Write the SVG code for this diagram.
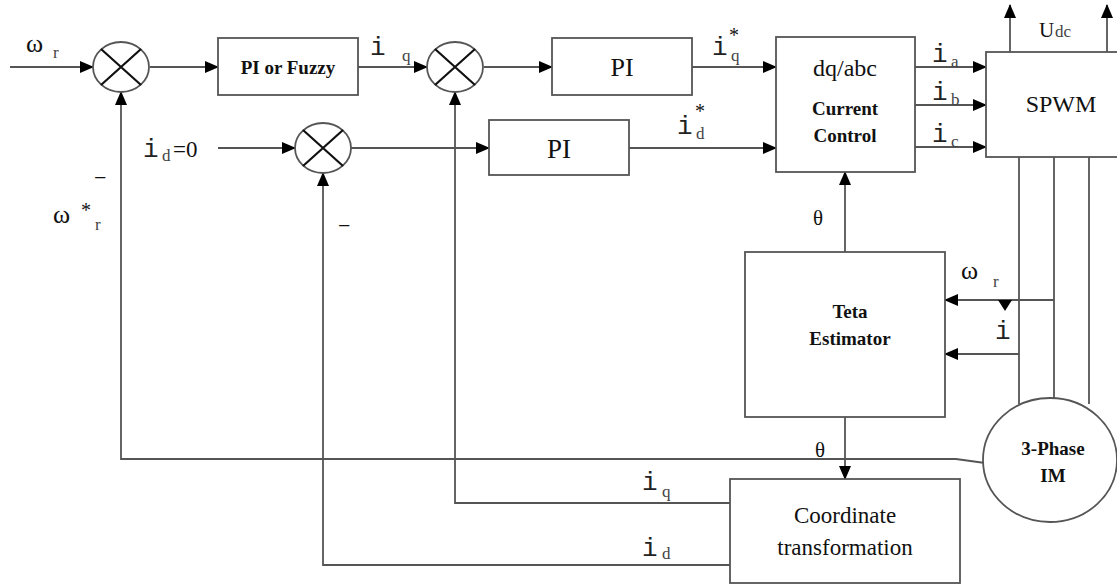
<svg xmlns="http://www.w3.org/2000/svg" width="1117" height="584" viewBox="0 0 1117 584">
<style>
.box{fill:#fff;stroke:#555;stroke-width:1.8}
.sum{fill:#fff;stroke:#555;stroke-width:1.8}
.x{stroke:#111;stroke-width:2.2}
.ln{fill:none;stroke:#555;stroke-width:1.8}
.arr{marker-end:url(#ah)}
.s{font-family:"Liberation Serif","Times New Roman","DejaVu Serif",serif;fill:#111}
.b{font-family:"Liberation Serif","Times New Roman","DejaVu Serif",serif;font-weight:bold;fill:#111}
.m{font-family:"Liberation Mono","Courier New",monospace;fill:#222}
.sub{font-family:"Liberation Serif","Times New Roman","DejaVu Serif",serif;fill:#444;font-size:17px}
</style>
<defs>
<marker id="ah" markerUnits="userSpaceOnUse" markerWidth="14" markerHeight="12" refX="13" refY="6" orient="auto">
<path d="M0,0 L14,6 L0,12 z" fill="#000"/>
</marker>
</defs>
<rect width="1117" height="584" fill="#fff"/>
<g id="connectors">
<path class="ln arr" d="M10,67 H93"/>
<path class="ln arr" d="M150,67 H218"/>
<path class="ln arr" d="M358,67 H427"/>
<path class="ln arr" d="M484,67 H552"/>
<path class="ln arr" d="M692,67 H776"/>
<path class="ln arr" d="M218,148 H295"/>
<path class="ln arr" d="M351,148 H489"/>
<path class="ln arr" d="M629,148 H776"/>
<path class="ln arr" d="M915,67 H986"/>
<path class="ln arr" d="M915,105 H986"/>
<path class="ln arr" d="M915,147 H986"/>
<path class="ln arr" d="M1010,52 V5"/>
<path class="ln arr" d="M1107,52 V5"/>
<path class="ln" d="M1019,157 V404"/>
<path class="ln" d="M1054,157 V398"/>
<path class="ln" d="M1089,157 V404"/>
<path class="ln arr" d="M845,252 V172"/>
<path class="ln arr" d="M1054,300 H945"/>
<path d="M998,300 L1012,300 L1005,311 z" fill="#000"/>
<path class="ln arr" d="M1019,354 H945"/>
<path class="ln arr" d="M845,417 V479"/>
<path class="ln arr" d="M985,463 L956,459 H121 V92"/>
<path class="ln arr" d="M730,503 H455 V92"/>
<path class="ln arr" d="M730,565 H323 V173"/>
</g>
<g id="sum1">
<ellipse class="sum" cx="121" cy="67" rx="28" ry="25"/>
<path class="x" d="M101,49 L141,85 M101,85 L141,49"/>
</g>
<g id="sum2">
<ellipse class="sum" cx="455" cy="67" rx="28" ry="25"/>
<path class="x" d="M435,49 L475,85 M435,85 L475,49"/>
</g>
<g id="sum3">
<ellipse class="sum" cx="323" cy="148" rx="28" ry="25"/>
<path class="x" d="M303,130 L343,166 M303,166 L343,130"/>
</g>
<g id="pi-fuzzy">
<rect class="box" x="218" y="38" width="140" height="57"/>
<text class="b" x="288" y="74" font-size="19" text-anchor="middle">PI or Fuzzy</text>
</g>
<g id="pi-q">
<rect class="box" x="552" y="38" width="140" height="57"/>
<text class="s" x="622" y="76" font-size="26" text-anchor="middle">PI</text>
</g>
<g id="pi-d">
<rect class="box" x="489" y="120" width="140" height="55"/>
<text class="s" x="559" y="158" font-size="27" text-anchor="middle">PI</text>
</g>
<g id="current-control">
<rect class="box" x="776" y="37" width="139" height="135"/>
<text class="s" x="845" y="76" font-size="24" text-anchor="middle">dq/abc</text>
<text class="b" x="845" y="115" font-size="19" text-anchor="middle">Current</text>
<text class="b" x="845" y="142" font-size="19" text-anchor="middle">Control</text>
</g>
<g id="spwm">
<rect class="box" x="986" y="52" width="140" height="105"/>
<text class="s" x="1061" y="112" font-size="24" text-anchor="middle">SPWM</text>
</g>
<g id="teta-estimator">
<rect class="box" x="745" y="252" width="200" height="165"/>
<text class="b" x="850" y="318" font-size="19" text-anchor="middle">Teta</text>
<text class="b" x="850" y="345" font-size="19" text-anchor="middle">Estimator</text>
</g>
<g id="motor">
<ellipse class="box" cx="1050" cy="460" rx="67" ry="62"/>
<text class="b" x="1053" y="455" font-size="19" text-anchor="middle">3-Phase</text>
<text class="b" x="1053" y="482" font-size="19" text-anchor="middle">IM</text>
</g>
<g id="coordinate-transformation">
<rect class="box" x="730" y="479" width="230" height="104"/>
<text class="s" x="845" y="523" font-size="23" text-anchor="middle">Coordinate</text>
<text class="s" x="845" y="555" font-size="23" text-anchor="middle">transformation</text>
</g>
<g id="labels">
<text class="s" x="26" y="52" font-size="26">ω</text><text class="sub" x="53" y="58">r</text>
<text class="m" x="370" y="55" font-size="26">i</text><text class="sub" x="402" y="61">q</text>
<text class="m" x="712" y="55" font-size="26">i</text><text class="sub" x="731" y="61">q</text><text class="s" x="729" y="42" font-size="20">*</text>
<text class="m" x="677" y="134" font-size="26">i</text><text class="sub" x="696" y="139">d</text><text class="s" x="695" y="118" font-size="20">*</text>
<text class="m" x="143" y="157" font-size="26">i</text><text class="sub" x="162" y="161">d</text><text class="s" x="173" y="157" font-size="23">=0</text>
<text class="m" x="932" y="62" font-size="26">i</text><text class="sub" x="951" y="67">a</text>
<text class="m" x="932" y="100" font-size="26">i</text><text class="sub" x="951" y="105">b</text>
<text class="m" x="932" y="142" font-size="26">i</text><text class="sub" x="951" y="147">c</text>
<text class="s" x="1039" y="37" font-size="21">U</text><text class="sub" x="1055" y="37" font-size="16">dc</text>
<text class="s" x="94" y="185" font-size="22">−</text>
<text class="s" x="53" y="223" font-size="26">ω</text><text class="s" x="81" y="217" font-size="20">*</text><text class="sub" x="95" y="230">r</text>
<text class="s" x="338" y="233" font-size="22">−</text>
<text class="s" x="813" y="225" font-size="21">θ</text>
<text class="s" x="961" y="279" font-size="26">ω</text><text class="sub" x="993" y="287">r</text>
<text class="m" x="995" y="339" font-size="26">i</text>
<text class="s" x="815" y="457" font-size="21">θ</text>
<text class="m" x="642" y="490" font-size="26">i</text><text class="sub" x="662" y="497">q</text>
<text class="m" x="642" y="556" font-size="26">i</text><text class="sub" x="662" y="559">d</text>
</g>
</svg>
